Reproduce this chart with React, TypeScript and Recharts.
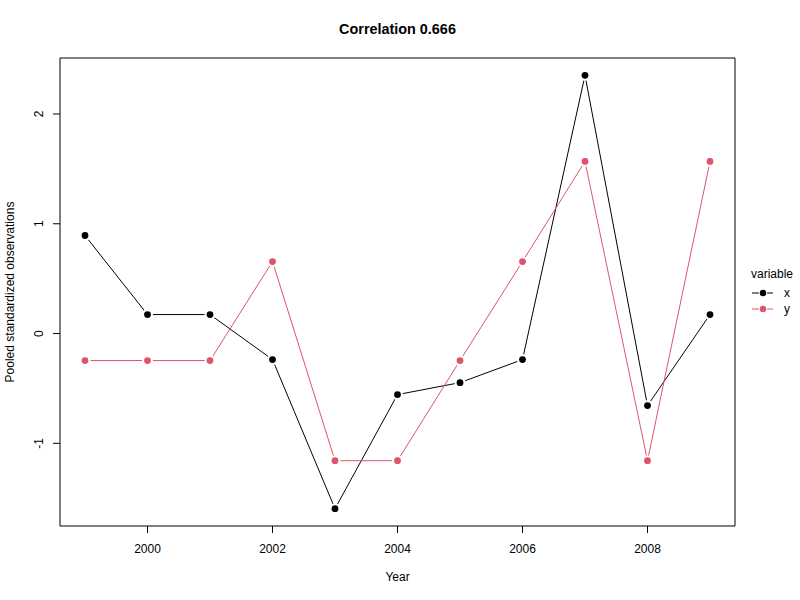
import { LineChart, Line, XAxis, YAxis, ReferenceArea } from 'recharts'

// years and pooled standardized values
const YEARS = [1999, 2000, 2001, 2002, 2003, 2004, 2005, 2006, 2007, 2008, 2009]
const X_VALUES = [0.893, 0.173, 0.173, -0.237, -1.595, -0.556, -0.447, -0.237, 2.352, -0.656, 0.173]
const Y_VALUES = [-0.246, -0.246, -0.246, 0.656, -1.158, -1.158, -0.246, 0.656, 1.568, -1.158, 1.568]
const X_TICKS = [2000, 2002, 2004, 2006, 2008]
const Y_TICKS = [-1, 0, 1, 2]

const RED = '#DF536B'
const FONT = '"Liberation Sans", Arial, sans-serif'

const data = YEARS.map((year, i) => ({ year, x: X_VALUES[i], y: Y_VALUES[i] }))

// R-style 4% padding around the data range
function padded(values: number[]): [number, number] {
  const lo = Math.min(...values)
  const hi = Math.max(...values)
  const pad = (hi - lo) * 0.04
  return [lo - pad, hi + pad]
}

const xDomain = padded(YEARS)
const yDomain = padded([...X_VALUES, ...Y_VALUES])

// type="b" look: point with a white gap around it
function makeDot(color: string) {
  return (props: any) => {
    const { cx, cy, index } = props
    if (cx == null || cy == null) return <g key={index} />
    return (
      <g key={index}>
        <circle cx={cx} cy={cy} r={5.5} fill="#fff" stroke="none" />
        <circle cx={cx} cy={cy} r={3.4} fill={color} stroke="none" />
      </g>
    )
  }
}

function YTick(props: any) {
  const { x, y, payload } = props
  return (
    <text
      x={x}
      y={y}
      transform={`rotate(-90, ${x}, ${y})`}
      textAnchor="middle"
      fontSize={12}
      fontFamily={FONT}
      fill="#000"
    >
      {payload.value}
    </text>
  )
}

export default function App() {
  const text = { position: 'absolute' as const, fontFamily: FONT, color: '#000', whiteSpace: 'nowrap' as const }
  return (
    <div style={{ position: 'absolute', left: 0, top: 0, width: 800, height: 600, background: '#fff' }}>
      <LineChart width={800} height={600} data={data} margin={{ top: 58, right: 65, left: 0, bottom: 0 }}>
        <XAxis
          dataKey="year"
          type="number"
          domain={xDomain}
          ticks={X_TICKS}
          allowDataOverflow
          axisLine={false}
          tickSize={7}
          tickMargin={11}
          height={74}
          tickLine={{ stroke: '#000' }}
          tick={{ fill: '#000', fontSize: 12, fontFamily: FONT }}
        />
        <YAxis
          type="number"
          domain={yDomain}
          ticks={Y_TICKS}
          allowDataOverflow
          axisLine={false}
          width={60}
          tickSize={7}
          tickMargin={10}
          tickLine={{ stroke: '#000' }}
          tick={<YTick />}
        />
        <ReferenceArea
          x1={xDomain[0]}
          x2={xDomain[1]}
          y1={yDomain[0]}
          y2={yDomain[1]}
          fill="none"
          fillOpacity={0}
          stroke="#000"
          strokeWidth={1}
        />
        <Line
          type="linear"
          dataKey="x"
          stroke="#000"
          strokeWidth={1}
          dot={makeDot('#000')}
          activeDot={false}
          isAnimationActive={false}
        />
        <Line
          type="linear"
          dataKey="y"
          stroke={RED}
          strokeWidth={1}
          dot={makeDot(RED)}
          activeDot={false}
          isAnimationActive={false}
        />
      </LineChart>

      <div style={{ ...text, left: 0, width: 795, top: 21, textAlign: 'center', fontWeight: 'bold', fontSize: 14.4 }}>
        Correlation 0.666
      </div>
      <div style={{ ...text, left: 0, width: 795, top: 570, textAlign: 'center', fontSize: 12 }}>Year</div>
      <div
        style={{
          ...text,
          left: 10,
          top: 292,
          fontSize: 12,
          transform: 'translate(-50%, -50%) rotate(-90deg)'
        }}
      >
        Pooled standardized observations
      </div>

      <div style={{ ...text, left: 751, top: 267, fontSize: 12 }}>variable</div>
      <svg style={{ position: 'absolute', left: 745, top: 283 }} width={55} height={36}>
        <line x1={7} y1={10} x2={28} y2={10} stroke="#000" />
        <circle cx={18} cy={10} r={4.2} fill="#fff" />
        <circle cx={18} cy={10} r={3.2} fill="#000" />
        <line x1={7} y1={26} x2={28} y2={26} stroke={RED} />
        <circle cx={18} cy={26} r={4.2} fill="#fff" />
        <circle cx={18} cy={26} r={3.2} fill={RED} />
        <text x={39} y={14} fontSize={12} fontFamily={FONT}>x</text>
        <text x={39} y={30} fontSize={12} fontFamily={FONT}>y</text>
      </svg>
    </div>
  )
}
